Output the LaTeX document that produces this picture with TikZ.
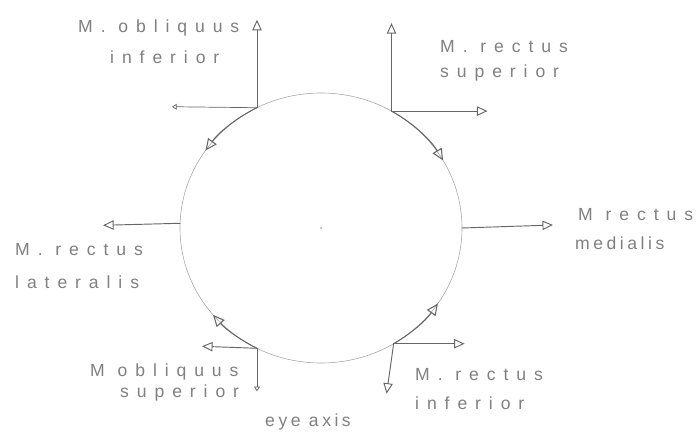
\documentclass[tikz,border=0pt]{standalone}
\usepackage{fontspec}
\newfontfamily\sketchfont{Liberation Sans}[LetterSpace=45]
\newfontfamily\sketchtight{Liberation Sans}[LetterSpace=20]
\usetikzlibrary{
	arrows.meta,
	calc
}
\colorlet{PLine}{black!60}
\colorlet{PBall}{black!35}
\colorlet{PText}{black!50}
\tikzset{
	muscle/.style={PLine, line width=0.8pt, -{Triangle[open,length=9pt,width=8pt]}},
	turn/.style={PLine, line width=0.9pt, -{Triangle[open,length=10pt,width=9pt]}},
	tick/.style={PLine, line width=0.6pt, -{Triangle[open,length=4pt,width=5pt]}},
	lbl/.style={PText, anchor=west, inner sep=0pt, font=\sketchfont\fontsize{15}{17}\selectfont},
	lbltight/.style={lbl, font=\sketchtight\fontsize{15}{17}\selectfont}
}

\begin{document}
\begin{tikzpicture}[x=0.03cm, y=0.03cm, line cap=round, line join=round]
	\useasboundingbox (0,0) rectangle (698,437);
	
	% -- Eyeball -------------------------------------------------
	\coordinate (C) at (321,209);
	\draw[PBall, line width=0.5pt] (C) ellipse [x radius=141, y radius=135];
	\fill[PBall] (C) circle (1);
	
	% -- Insertion points on the eyeball -------------------------
	\coordinate (OI) at ($(C)+(117:141 and 135)$);
	\coordinate (RS) at ($(C)+(60:141 and 135)$);
	\coordinate (RM) at ($(C)+(0:141 and 135)$);
	\coordinate (RL) at ($(C)+(178:141 and 135)$);
	\coordinate (OS) at ($(C)+(243:141 and 135)$);
	\coordinate (RI) at ($(C)+(-59:141 and 135)$);
	
	% -- Free ends of the pulls ----------------------------------
	\coordinate (OIup)    at ($(OI)+(0,88)$);
	\coordinate (OIleft)  at ($(OI)+(-85,1)$);
	\coordinate (RSup)    at ($(RS)+(0,88)$);
	\coordinate (RSright) at ($(RS)+(96,0)$);
	\coordinate (RMright) at ($(RM)+(91,3)$);
	\coordinate (RLleft)  at ($(RL)+(-77,-2)$);
	\coordinate (OSleft)  at ($(OS)+(-55,2)$);
	\coordinate (OSdown)  at ($(OS)+(0,-43)$);
	\coordinate (RIright) at ($(RI)+(71,0)$);
	\coordinate (RIdown)  at ($(RI)+(-7,-50)$);
	
	% -- M. obliquus inferior ------------------------------------
	\draw[muscle] (OI) -- (OIup);
	\draw[tick] (OI) -- (OIleft);
	\draw[turn] (OI) arc[start angle=117, end angle=145, x radius=141, y radius=135];
	\node[lbl] (oiA) at (78,409) {M. obliquus};
	\node[lbl] (oiB) at (110,380) {inferior};
	
	% -- M. rectus superior --------------------------------------
	\draw[muscle] (RS) -- (RSup);
	\draw[muscle] (RS) -- (RSright);
	\draw[turn] (RS) arc[start angle=60, end angle=30, x radius=141, y radius=135];
	\node[lbl] (rsA) at (440,390) {M. rectus};
	\node[lbl] (rsB) at (440,364) {superior};
	
	% -- M. rectus medialis --------------------------------------
	\draw[muscle] (RM) -- (RMright);
	\node[lbl] (rmA) at (578,222) {M rectus};
	\node[lbltight] (rmB) at (575,194) {medialis};
	
	% -- M. rectus lateralis -------------------------------------
	\draw[muscle] (RL) -- (RLleft);
	\node[lbl] (rlA) at (15,187) {M. rectus};
	\node[lbl] (rlB) at (15,155) {lateralis};
	
	% -- M. obliquus superior ------------------------------------
	\draw[muscle] (OS) -- (OSleft);
	\draw[tick] (OS) -- (OSdown);
	\draw[turn] (OS) arc[start angle=243, end angle=220, x radius=141, y radius=135];
	\node[lbl] (osA) at (90,65) {M obliquus};
	\node[lbl] (osB) at (120,44) {superior};
	
	% -- M. rectus inferior --------------------------------------
	\draw[muscle] (RI) -- (RIright);
	\draw[muscle] (RI) -- (RIdown);
	\draw[turn] (RI) arc[start angle=-59, end angle=-34, x radius=141, y radius=135];
	\node[lbl] (riA) at (415,62) {M. rectus};
	\node[lbl] (riB) at (415,34) {inferior};
	
	% -- Axis label ----------------------------------------------
	\node[lbltight] (axis) at (265,15) {eye axis};
	
\end{tikzpicture}
\end{document}
